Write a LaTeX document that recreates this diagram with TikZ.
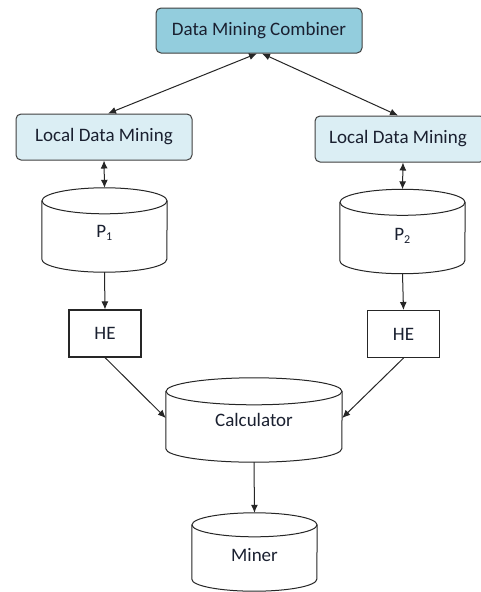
\documentclass[tikz,border=0pt]{standalone}
\usepackage{fontspec}
\setmainfont{Carlito}
\usetikzlibrary{arrows.meta}
\definecolor{combfill}{HTML}{93CDDD}
\definecolor{ldmfill}{HTML}{DBEEF4}
\definecolor{txt}{HTML}{1A2030}
\tikzset{
  base/.style={font=\fontsize{19}{22}\selectfont, text=txt, inner sep=0pt},
  rbox/.style={base, draw=black!75, line width=1pt, rounded corners=5pt},
  hebox/.style={base, draw=black!85, line width=1.1pt, minimum width=72pt, minimum height=47pt},
  cylnode/.style={base, minimum width=#1, minimum height=84pt},
  conn/.style={-{Latex[length=8pt,width=7pt]}, line width=1pt, black!85},
  dconn/.style={{Latex[length=8pt,width=7pt]}-{Latex[length=8pt,width=7pt]}, line width=1pt, black!85},
  cylline/.style={line width=1pt, black!85}
}
\newcommand\drawcyl[3]{% node, half width, ry
  \draw[cylline] ([yshift=-#3]#1.north west) -- ([yshift=#3]#1.south west)
     arc[start angle=180,end angle=360,x radius=#2,y radius=#3]
     -- ([yshift=-#3]#1.north east);
  \draw[cylline] ([yshift=-#3]#1.north) ellipse[x radius=#2,y radius=#3];
}
\begin{document}
\begin{tikzpicture}[x=1pt,y=-1pt]
\useasboundingbox (0,0) rectangle (481,592);
\fill[white] (0,0) rectangle (481,592);
% boxes
\node[rbox, fill=combfill, minimum width=206pt, minimum height=45pt] (comb) at (259,30.5) {Data Mining Combiner};
\node[rbox, fill=ldmfill, minimum width=176pt, minimum height=46pt] (ldm1) at (104,137) {Local Data Mining};
\node[rbox, fill=ldmfill, minimum width=170pt, minimum height=46pt] (ldm2) at (400,139) {\hspace*{-4pt}Local Data Mining};
% cylinders
\node[cylnode=125pt] (p1) at (104.5,230) {};
\node[base] (p1l) at (104.5,233) {P\textsubscript{\fontsize{12}{12}\selectfont 1}};
\drawcyl{p1}{62.5pt}{13pt}
\node[cylnode=125pt] (p2) at (402.5,231.5) {};
\node[base] (p2l) at (402.5,236) {P\textsubscript{\fontsize{12}{12}\selectfont 2}};
\drawcyl{p2}{62.5pt}{13pt}
\node[hebox] (he1) at (105,333.5) {HE};
\node[hebox] (he2) at (403.5,334) {HE};
\node[cylnode=176pt, minimum height=84pt] (calc) at (254,420) {Calculator};
\drawcyl{calc}{88pt}{13.5pt}
\node[cylnode=125pt, minimum height=78pt] (miner) at (254.5,552) {};
\node[base] (minerl) at (254.5,555) {Miner};
\drawcyl{miner}{62.5pt}{12pt}
% connectors
\draw[dconn] ([xshift=-2pt]comb.south) -- ([xshift=4pt]ldm1.north);
\draw[dconn] ([xshift=3pt]comb.south) -- ([xshift=-2pt]ldm2.north);
\draw[dconn] (ldm1.south) -- (p1.north);
\draw[dconn] ([xshift=3pt]ldm2.south) -- (p2.north);
\draw[conn] (p1.south) -- (he1.north);
\draw[conn] (p2.south) -- (he2.north);
\draw[conn] (he1.south) -- ([yshift=2pt]calc.west);
\draw[conn] (he2.south) -- ([yshift=2pt]calc.east);
\draw[conn] (calc.south) -- (miner.north);
\end{tikzpicture}
\end{document}
